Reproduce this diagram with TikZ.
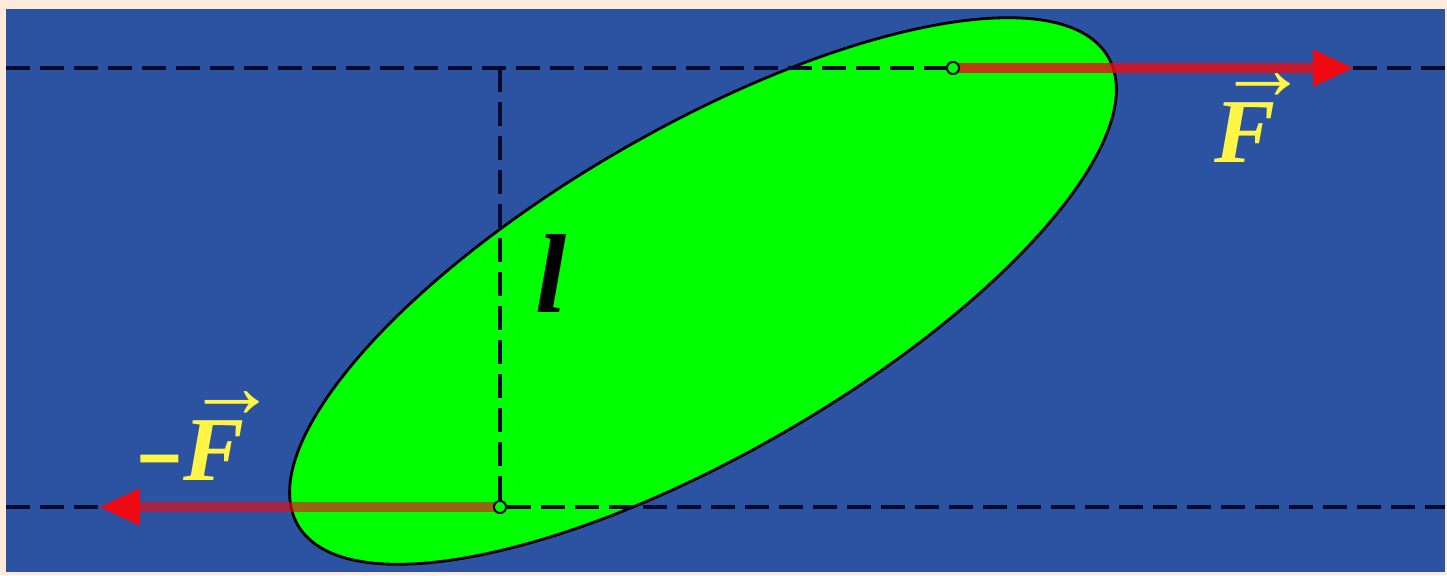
\documentclass[tikz,border=0pt]{standalone}
\usepackage{fontspec}
\usepackage{graphicx}
\setmainfont{Liberation Serif}
\definecolor{frame}{RGB}{253,234,218}
\definecolor{sky}{RGB}{44,83,161}
\definecolor{lime}{RGB}{0,255,0}
\definecolor{force}{RGB}{240,10,20}
\definecolor{ink}{RGB}{5,10,45}
\definecolor{gold}{RGB}{255,245,70}
\usetikzlibrary{arrows.meta,shapes.geometric}
\tikzset{
  guide/.style={draw=ink,line width=2.2pt,dash pattern=on 0.48cm off 0.2cm},
  shaft/.style={draw=force,line width=6pt},
  head/.style={draw=force,line width=1pt,-{Triangle[length=0.8cm,width=0.74cm]}},
  hinge/.style={circle,draw=ink,line width=1.1pt,fill=lime,minimum size=0.24cm,inner sep=0pt},
  vlbl/.style={text=gold,inner sep=0pt,anchor=base},
}
\newcommand{\vecF}{{\fontsize{52}{52}\selectfont\bfseries\itshape
  F\llap{\raisebox{0.68em}{\upshape\scalebox{1.0}[1]{→}}\kern-0.36em}}}

\begin{document}
\begin{tikzpicture}[x=0.02cm,y=-0.02cm]
    \fill[frame] (0,0) rectangle (1447,575);
    \useasboundingbox (0,0) rectangle (1447,575);
    \fill[sky] (6,9) rectangle (1445,572);
    % the body
    \node[ellipse,draw=black,line width=1.6pt,fill=lime,inner sep=0pt,
          minimum width=18.72cm,minimum height=6.52cm,rotate=30] (disc) at (703,291) {};
    % lines of action
    \node[hinge] (A) at (953,68) {};
    \node[hinge] (B) at (500,507) {};
    \coordinate (tl) at (6,68);
    \coordinate (tr) at (1445,68);
    \coordinate (bl) at (6,507);
    \coordinate (br) at (1445,507);
    \coordinate (foot) at (500,68);
    \coordinate (Fb) at (1314,68);
    \coordinate (Ft) at (1353,68);
    \coordinate (Gb) at (140,507);
    \coordinate (Gt) at (100,507);
    \draw[guide] (tl) -- (A);
    \draw[guide] (Ft) -- (tr);
    \draw[guide] (bl) -- (Gt);
    \draw[guide] (B) -- (br);
    \draw[guide] (foot) -- (B);
    % forces
    \draw[shaft,opacity=.8] (A.center) -- (Fb);
    \draw[head] (Fb) -- (Ft);
    \draw[shaft,opacity=.62] (B.center) -- (Gb);
    \draw[head] (Gb) -- (Gt);
    \node[hinge] at (A) {};
    \node[hinge] at (B) {};
    % labels
    \node[vlbl] (lf) at (1245,162) {\vecF};
    \node[vlbl] (lmf) at (190,480) {{\fontsize{52}{52}\selectfont\bfseries\scalebox{1.6}[1]{-}}\vecF};
    \node[inner sep=0pt,anchor=base] (ll) at (551,312) {\fontsize{64}{64}\selectfont\bfseries\itshape l};
  \end{tikzpicture}
\end{document}
